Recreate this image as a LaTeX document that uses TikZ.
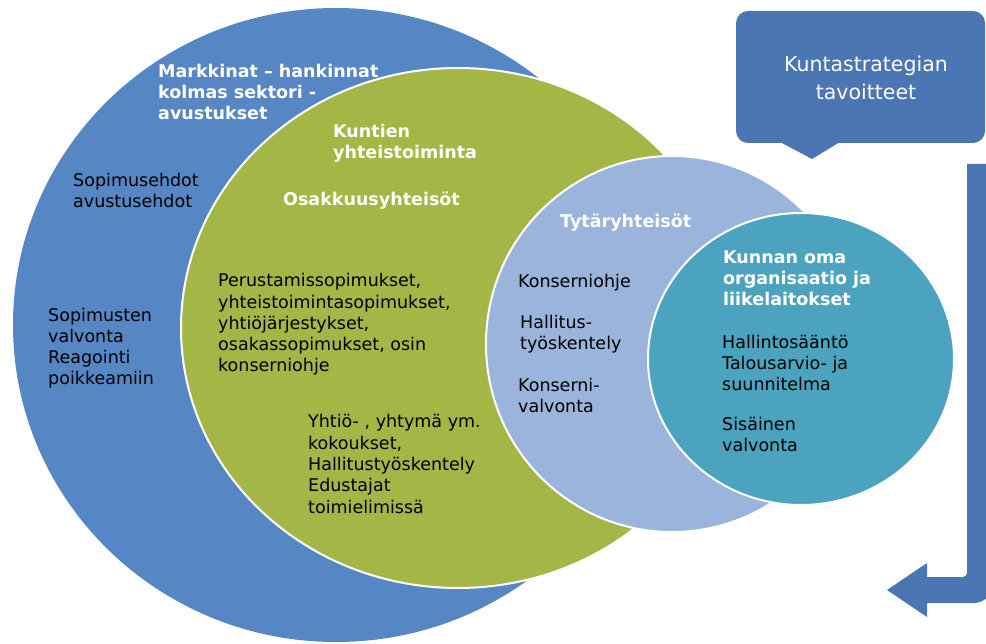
\documentclass[tikz,border=0pt]{standalone}
\usepackage{fontspec}
\setmainfont{DejaVu Sans}
\usetikzlibrary{positioning}
\definecolor{outerblue}{HTML}{5687C4}
\definecolor{olive}{HTML}{A4B646}
\definecolor{paleblue}{HTML}{9AB4DC}
\definecolor{teal}{HTML}{4BA3BF}
\definecolor{boxblue}{HTML}{4A76B4}
\begin{document}
\begin{tikzpicture}[x=1pt,y=-1pt,
    ring/.style={draw=white, line width=2pt},
    txt/.style={anchor=base west, align=left, inner sep=0pt, font=\fontsize{17.5}{21.3}\selectfont},
    head/.style={txt, text=white, font=\fontsize{17.5}{21.3}\selectfont\bfseries}]
    \clip (0,0) rectangle (986,644);
    % the four areas
    \fill[outerblue] (336,325) ellipse[x radius=323, y radius=317];
    \filldraw[fill=olive, ring] (458,328) ellipse[x radius=277, y radius=260];
    \filldraw[fill=paleblue, ring] (672,344) ellipse[x radius=186, y radius=188];
    \filldraw[fill=teal, ring] (801,359) ellipse[x radius=153, y radius=146];
    % callout and return arrow
    \fill[boxblue, rounded corners=12pt] (736,11) rectangle (985,143);
    \fill[boxblue] (780,142) -- (840,142) -- (812,159) -- cycle;
    \fill[boxblue] (967,164) -- (992,164) [rounded corners=18pt] -- (992,603) [sharp corners] -- (927,603) -- (927,617) -- (887,590) -- (927,563) -- (927,577) [rounded corners=4pt] -- (967,577) [sharp corners] -- cycle;
    % base anchor of a node of several lines = baseline of its last line
    \node[anchor=base, align=center, text=white, inner sep=0pt, font=\fontsize{20.5}{28}\selectfont] (goals) at (866,100) {Kuntastrategian\\tavoitteet};
    % outer ring
    \node[head] (markets) at (158,120) {Markkinat – hankinnat\\kolmas sektori -\\avustukset};
    \node[txt] (terms) at (73,208) {Sopimusehdot\\avustusehdot};
    \node[txt] (monitor) at (48,385) {Sopimusten\\valvonta\\Reagointi\\poikkeamiin};
    % cooperation
    \node[head] (coop) at (333,159) {Kuntien\\yhteistoiminta};
    \node[head] (assoc) at (283,206) {Osakkuusyhteisöt};
    \node[txt] (founding) at (218,372) {Perustamissopimukset,\\yhteistoimintasopimukset,\\yhtiöjärjestykset,\\osakassopimukset, osin\\konserniohje};
    \node[txt] (meetings) at (308,513) {Yhtiö- , yhtymä ym.\\kokoukset,\\Hallitustyöskentely\\Edustajat\\toimielimissä};
    % subsidiaries
    \node[head] (subs) at (560,228) {Tytäryhteisöt};
    \node[txt] (guide) at (518,288) {Konserniohje};
    \node[txt] (board) at (520,350) {Hallitus-\\työskentely};
    \node[txt] (groupctl) at (518,413) {Konserni-\\valvonta};
    % own organisation
    \node[head] (own) at (723,306) {Kunnan oma\\organisaatio ja\\liikelaitokset};
    \node[txt] (rules) at (722,391) {Hallintosääntö\\Talousarvio- ja\\suunnitelma};
    \node[txt] (internal) at (722,452) {Sisäinen\\valvonta};
\end{tikzpicture}
\end{document}
